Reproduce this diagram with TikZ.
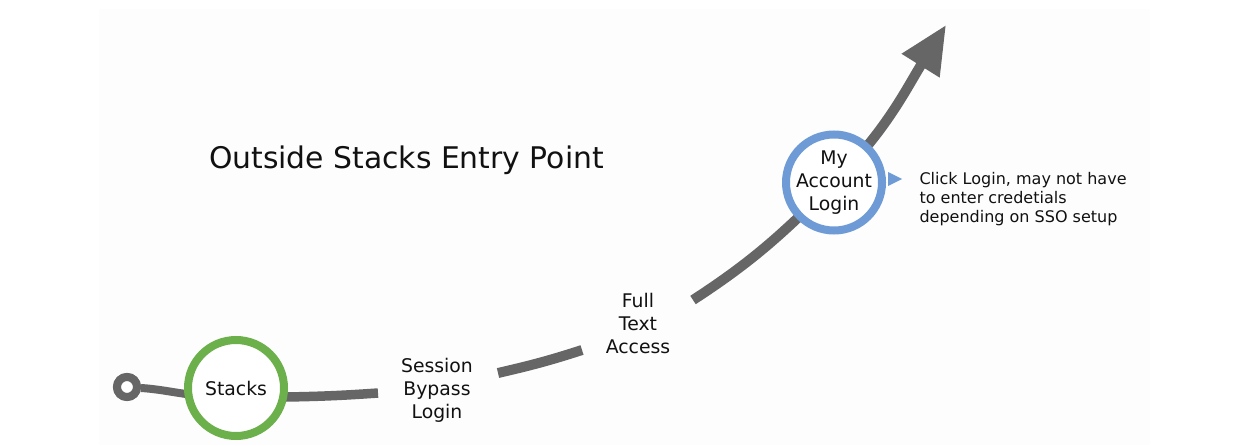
\documentclass[tikz,border=0pt]{standalone}
\usepackage{fontspec}
\setmainfont{DejaVu Sans}
\usetikzlibrary{arrows.meta}
\definecolor{pathgray}{HTML}{666666}
\definecolor{stackgreen}{HTML}{6CB04B}
\definecolor{loginblue}{HTML}{6E9BD6}
\definecolor{bgpanel}{HTML}{FDFDFD}
\definecolor{inkdark}{HTML}{111111}
\begin{document}
\begin{tikzpicture}[x=1pt,y=1pt,
  track/.style={draw=pathgray, line cap=butt},
  startring/.style={circle, draw=pathgray, line width=8pt, fill=white, minimum size=20pt, inner sep=0pt},
  ringnode/.style={circle, line width=8pt, fill=white, minimum size=96pt, inner sep=0pt},
  lbl/.style={align=center, text=inkdark, font=\fontsize{18.8}{23}\selectfont},
  note/.style={align=left, anchor=west, text=inkdark, font=\fontsize{16}{19}\selectfont},
  titletext/.style={text=inkdark, font=\fontsize{29.8}{34}\selectfont}]
\useasboundingbox (0,0) rectangle (1238,445);
\fill[bgpanel] (99,0) rectangle (1150,436);

% key coordinates
\coordinate (stc) at (236,57);
\coordinate (logc) at (834,262.5);
\coordinate (a1) at (186,51);
\coordinate (b0) at (286,48);
\coordinate (b1) at (378,52);
\coordinate (c0) at (498,72);
\coordinate (c1) at (582,95);
\coordinate (d0) at (693,145);
\coordinate (tip) at (946,420);

% start ring
\node[startring] (ring) at (127,58) {};

% track segments
\draw[track, line width=8pt] (ring) to[out=-4, in=172] (a1);
\draw[track, line width=9.5pt] (b0) to[out=1, in=184] (b1);
\draw[track, line width=10pt] (c0) to[out=13, in=198] (c1);
\draw[track, line width=10pt, -{Triangle[length=48pt, width=42pt]}]
  (d0) to[out=33, in=225] (logc) to[out=45, in=238] (tip);

% redraw ring on top
\node[startring] at (ring) {};

% stations
\node[ringnode, draw=stackgreen] (stacks) at (stc) {};
\node[lbl] (stackstext) at (stacks.center) {Stacks};

\node[ringnode, draw=loginblue] (login) at (logc) {};
\node[lbl] (logintext) at (login.center) {My\\Account\\Login};

\node[lbl] (session) at (437,55) {Session\\Bypass\\Login};
\node[lbl] (fulltext) at (638,122) {Full\\Text\\Access};

% pointer and note
\fill[loginblue] (888,259) -- (902,266) -- (888,273) -- cycle;
\node[note] (notetext) at (916,246) {Click Login, may not have\\to enter credetials\\depending on SSO setup};

% title
\node[titletext] (title) at (406.5,285) {Outside Stacks Entry Point};
\end{tikzpicture}
\end{document}
